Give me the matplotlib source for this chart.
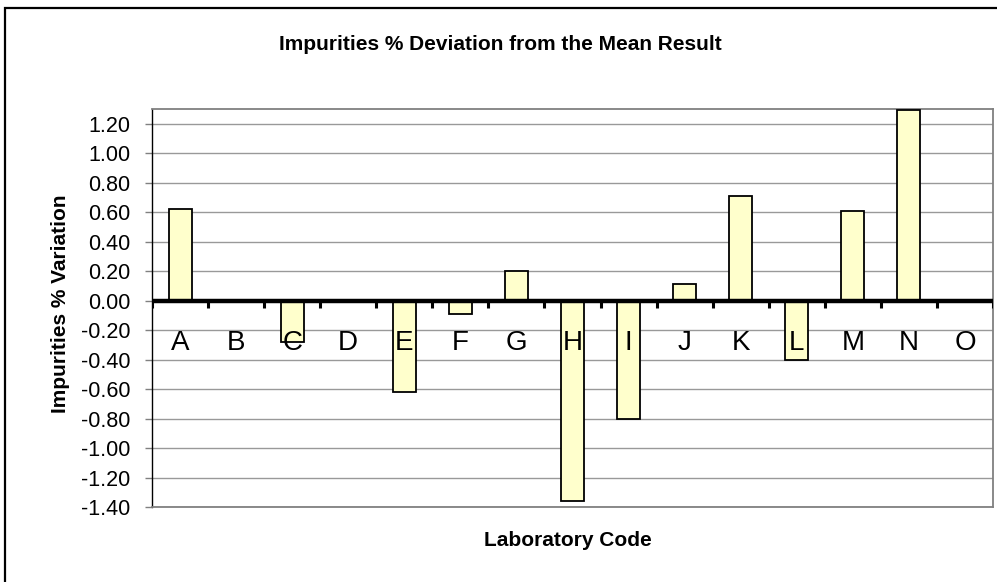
import matplotlib
matplotlib.use('Agg')
import matplotlib.pyplot as plt
import numpy as np
from matplotlib.patches import Rectangle

plt.rcParams['font.family'] = ['Liberation Sans', 'DejaVu Sans']

labs = ['A', 'B', 'C', 'D', 'E', 'F', 'G', 'H', 'I', 'J', 'K', 'L', 'M', 'N', 'O']
deviation = [0.62, 0.00, -0.28, 0.00, -0.62, -0.09, 0.20, -1.36, -0.80, 0.11, 0.71, -0.40, 0.61, 1.29, 0.00]
yticks = [1.20, 1.00, 0.80, 0.60, 0.40, 0.20, 0.00, -0.20, -0.40, -0.60, -0.80, -1.00, -1.20, -1.40]

fig = plt.figure(figsize=(9.97, 5.82), dpi=100)
ax = fig.add_axes([152/997, 75/582, 841/997, 398/582])

x = np.arange(len(labs))
ax.bar(x, deviation, width=0.41, color='#FFFFCC', edgecolor='black', linewidth=1.3, zorder=3)

ax.set_xlim(-0.5, len(labs) - 0.5)
ax.set_ylim(-1.40, 1.30)
ax.set_yticks(yticks)
ax.set_yticklabels(['%.2f' % v for v in yticks], fontsize=15.5)
ax.tick_params(axis='y', direction='out', length=5, color='#808080', width=1, pad=10.5)
ax.set_xticks([])
ax.yaxis.grid(True, color='#999999', linewidth=1, zorder=0)
ax.set_axisbelow(True)

# zero axis line with its tick marks
ax.axhline(0, color='black', linewidth=3.2, zorder=4)
bounds = np.arange(len(labs) + 1) - 0.5
ax.vlines(bounds, -0.05, 0, color='black', linewidth=2.2, zorder=4)

for xi, lab in zip(x, labs):
    ax.text(xi, -0.29, lab, ha='center', va='center', fontsize=20, zorder=5)

for s in ['top', 'right', 'bottom']:
    ax.spines[s].set_color('#808080')
    ax.spines[s].set_linewidth(1.3)
ax.spines['left'].set_color('black')
ax.spines['left'].set_linewidth(1)

fig.text(500/997, 1 - 45/582, 'Impurities % Deviation from the Mean Result',
         ha='center', va='center', fontsize=15, fontweight='bold')
fig.text(568/997, 1 - 541/582, 'Laboratory Code',
         ha='center', va='center', fontsize=15, fontweight='bold')
fig.text(60/997, 1 - 304/582, 'Impurities % Variation', rotation=90,
         ha='center', va='center', fontsize=15, fontweight='bold')

# chart frame
fig.patches.append(Rectangle((5/997, -0.1), 1.2, 1 - 8/582 + 0.1, transform=fig.transFigure,
                             fill=False, edgecolor='black', linewidth=1.6))

fig.savefig('out.png', dpi=100)
